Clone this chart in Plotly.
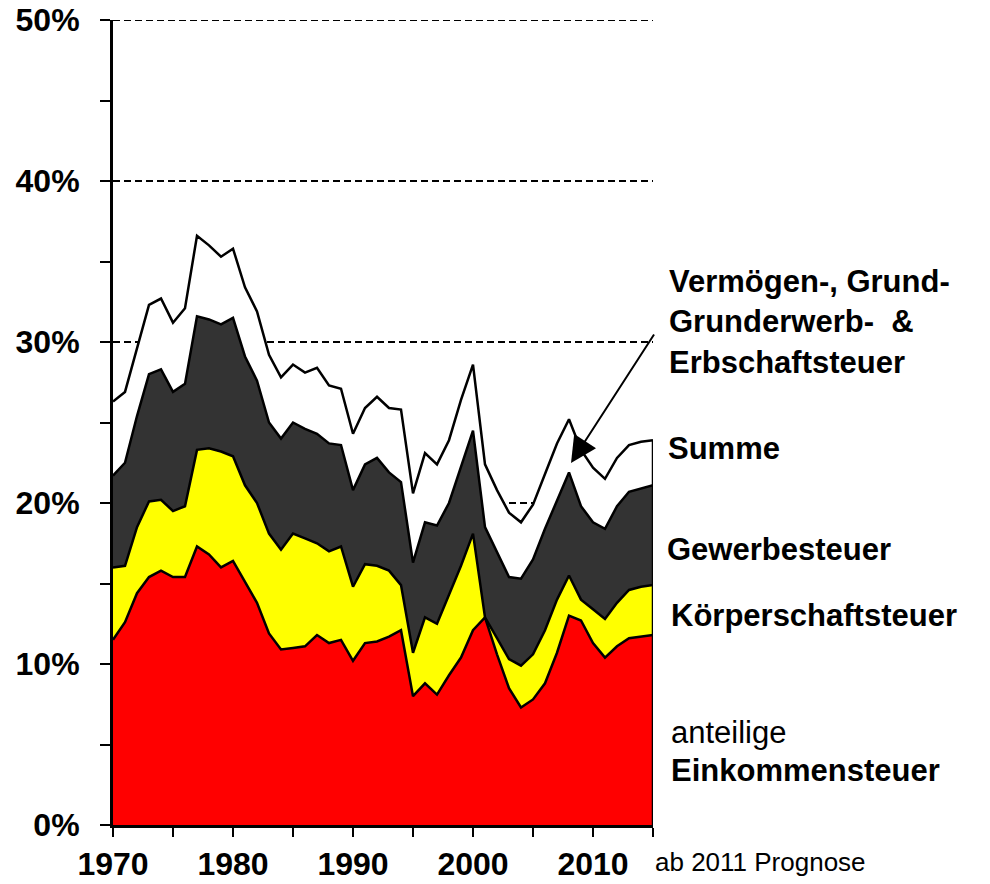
import plotly.graph_objects as go

years = list(range(1970, 2016))

# anteilige Einkommensteuer (% share)
einkommen = [11.5, 12.6, 14.4, 15.4, 15.8, 15.4, 15.4, 17.3, 16.8, 16.0,
             16.4, 15.1, 13.8, 11.9, 10.9, 11.0, 11.1, 11.8, 11.3, 11.5,
             10.2, 11.3, 11.4, 11.7, 12.1, 8.0, 8.8, 8.1, 9.3, 10.4,
             12.1, 12.9, 10.6, 8.5, 7.3, 7.8, 8.8, 10.7, 13.0, 12.7,
             11.3, 10.4, 11.1, 11.6, 11.7, 11.8]
# Körperschaftsteuer
koerperschaft = [4.5, 3.5, 4.1, 4.7, 4.4, 4.1, 4.4, 6.0, 6.6, 7.2,
                 6.5, 6.0, 6.2, 6.2, 6.2, 7.1, 6.7, 5.7, 5.7, 5.8,
                 4.6, 4.9, 4.7, 4.1, 2.8, 2.7, 4.1, 4.4, 5.0, 5.7,
                 6.0, 0.0, 1.0, 1.8, 2.6, 2.8, 3.3, 3.3, 2.5, 1.3,
                 2.1, 2.4, 2.7, 3.0, 3.1, 3.1]
# Gewerbesteuer
gewerbe = [5.7, 6.4, 6.9, 7.9, 8.1, 7.4, 7.6, 8.3, 8.0, 7.9,
           8.6, 8.0, 7.6, 6.9, 6.9, 6.9, 6.8, 6.8, 6.7, 6.3,
           6.0, 6.2, 6.7, 6.1, 6.4, 5.6, 5.9, 6.1, 5.7, 6.2,
           6.4, 5.6, 5.3, 5.1, 5.4, 5.9, 6.3, 6.2, 6.4, 5.8,
           5.4, 5.6, 6.0, 6.1, 6.1, 6.2]
# Vermögen-, Grund-, Grunderwerb- & Erbschaftsteuer
vermoegen = [4.6, 4.4, 4.2, 4.3, 4.4, 4.3, 4.7, 5.0, 4.6, 4.2,
             4.3, 4.3, 4.3, 4.2, 3.8, 3.6, 3.5, 4.1, 3.6, 3.5,
             3.5, 3.5, 3.8, 4.0, 4.5, 4.3, 4.3, 3.8, 3.9, 4.1,
             4.1, 3.9, 3.9, 4.0, 3.5, 3.4, 3.4, 3.5, 3.3, 3.5,
             3.4, 3.1, 3.0, 2.9, 2.9, 2.8]

x_tickvals = [1970, 1980, 1990, 2000, 2010]
x_ticktext = ["1970", "1980", "1990", "2000", "2010"]
y_tickvals = [0, 10, 20, 30, 40, 50]
y_ticktext = ["0%", "10%", "20%", "30%", "40%", "50%"]

series = [
    ("anteilige Einkommensteuer", einkommen, "#FF0000"),
    ("Körperschaftsteuer", koerperschaft, "#FFFF00"),
    ("Gewerbesteuer", gewerbe, "#333333"),
    ("Vermögen-, Grund-, Grunderwerb- & Erbschaftsteuer", vermoegen, "#FFFFFF"),
]

FONT = "Liberation Sans, Arial, sans-serif"

W, H = 990, 884
L, R, T, B = 113, 990 - 653, 20, 884 - 825

fig = go.Figure()
for name, vals, col in series:
    fig.add_trace(go.Scatter(
        x=years, y=vals, name=name, mode="lines",
        stackgroup="one", fillcolor=col,
        line=dict(color="black", width=2.5),
        hoverinfo="skip",
    ))

# right-hand closing edge of the stacked area
total_last = sum(s[1][-1] for s in series)
fig.add_trace(go.Scatter(x=[years[-1], years[-1]], y=[0, total_last], mode="lines",
                         line=dict(color="black", width=2.5), hoverinfo="skip"))

fig.update_layout(
    width=W, height=H,
    margin=dict(l=L, r=R, t=T, b=B, autoexpand=False),
    paper_bgcolor="white", plot_bgcolor="white",
    showlegend=False,
    font=dict(family=FONT, color="black"),
)

fig.update_xaxes(
    range=[1970, 2015], tickvals=x_tickvals, ticktext=x_ticktext,
    ticks="outside", ticklen=9, tickwidth=2, tickcolor="black",
    minor=dict(dtick=5, tick0=1970, ticks="outside", ticklen=9, tickwidth=2, tickcolor="black"),
    showgrid=False, zeroline=False, automargin=False,
    showline=True, linecolor="black", linewidth=3,
    tickfont=dict(family=FONT, size=32, color="black", weight="bold"),
    ticklabelstandoff=0, ticklabeloverflow="allow",
)
fig.update_yaxes(
    range=[0, 50], tickvals=y_tickvals, ticktext=y_ticktext,
    ticks="outside", ticklen=10, tickwidth=2, tickcolor="black",
    minor=dict(dtick=5, tick0=0, ticks="outside", ticklen=10, tickwidth=2, tickcolor="black", showgrid=False),
    showgrid=True, gridcolor="black", gridwidth=1.8, griddash="7px,4px",
    zeroline=False, automargin=False,
    showline=True, linecolor="black", linewidth=3,
    tickfont=dict(family=FONT, size=32, color="black", weight="bold"),
    ticklabelstandoff=14, ticklabeloverflow="allow",
)

# top gridline at 50 % (Plotly omits gridlines on the range edge)
fig.add_shape(type="line", xref="paper", yref="y", x0=0, x1=1, y0=50, y1=50,
              line=dict(color="black", width=1.8, dash="7px,4px"), layer="below")

PW, PH = 540.0, 805.0

def px_x(px):
    return (px - 113) / PW

def px_y(py):
    return (825 - py) / PH

labels = [
    ("<b>Vermögen-, Grund-<br>Grunderwerb-  &<br>Erbschaftsteuer</b>", 667, 322, 31),
    ("<b>Summe</b>", 666, 448, 31),
    ("<b>Gewerbesteuer</b>", 665, 549, 31),
    ("<b>Körperschaftsteuer</b>", 669, 615, 31),
    ("anteilige", 669, 732, 31),
    ("<b>Einkommensteuer</b>", 669, 770, 31),
    ("ab 2011 Prognose", 653, 862, 26),
]
for txt, x, y, s in labels:
    fig.add_annotation(
        text=txt, xref="paper", yref="paper", x=px_x(x), y=px_y(y),
        xanchor="left", yanchor="middle", showarrow=False, align="left",
        font=dict(family=FONT, size=s, color="black"),
    )

# arrow pointing to the top layer
fig.add_annotation(
    text="", xref="x", yref="y", axref="x", ayref="y",
    x=1970 + (571 - 113) / 12.0, y=(825 - 463) / 16.1,
    ax=1970 + (655 - 113) / 12.0, ay=(825 - 333) / 16.1,
    showarrow=True, arrowhead=2, arrowsize=2.6, arrowwidth=2, arrowcolor="black",
)

fig.write_html(
    "out.html",
    config={"displayModeBar": False, "staticPlot": True},
    post_script="document.body.style.margin='0px';document.body.style.overflow='hidden';",
)
